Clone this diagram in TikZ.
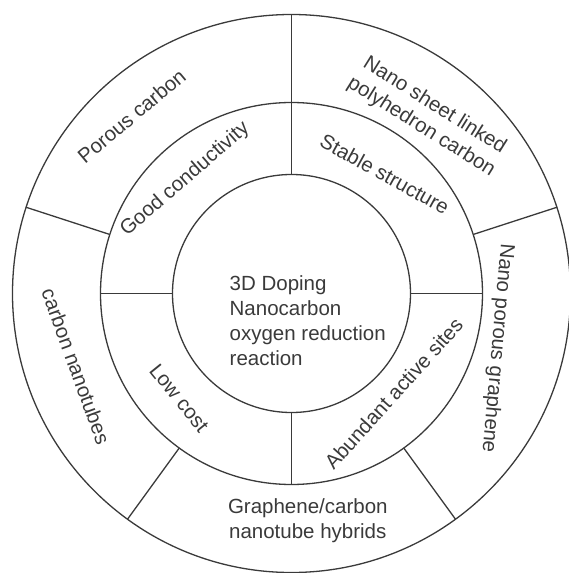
\documentclass[tikz,border=0pt]{standalone}
\usepackage{fontspec}
\setmainfont{Liberation Sans}
\usetikzlibrary{positioning}
\definecolor{InkGray}{HTML}{3A3A3A}

\begin{document}
\begin{tikzpicture}[
        x=1pt, y=1pt,
        ring/.style={circle, draw=InkGray, line width=1.3pt, inner sep=0pt, outer sep=0pt},
        divider/.style={draw=InkGray, line width=1.3pt},
        ringtext/.style={font=\fontsize{20.5}{25}\selectfont, text=InkGray, inner sep=0pt, align=center}
    ]
        \useasboundingbox (-291.5,-279.5) rectangle (277.5,293.5);

        % Nodes
        \node (rim) [ring, minimum size=558pt] at (0,0) {};
        \node (band) [ring, minimum size=382pt] at (0,0) {};
        \node (core) [ring, minimum size=238pt] at (0,0) {};
        \node (title) [ringtext, align=left, anchor=north west] at (-62,18) {3D Doping\\Nanocarbon\\oxygen reduction\\reaction};

        % Connectors
        \draw [divider] (core.90) -- (rim.90);
        \draw [divider] (core.0) -- (band.0);
        \draw [divider] (core.180) -- (band.180);
        \draw [divider] (core.270) -- (band.270);
        \foreach \a in {18,162,234,306}
            \draw [divider] (band.\a) -- (rim.\a);

        % Labels
        \node (porous) [ringtext, rotate=40] at (132:239) {Porous carbon};
        \node (sheet) [ringtext, rotate=-32] at (52.4:223.5) {Nano sheet linked\\polyhedron carbon};
        \node (nanoporous) [ringtext, rotate=-95] at (-14.9:212.8) {Nano porous graphene};
        \node (hybrids) [ringtext] at (274.1:228) {Graphene/carbon\\nanotube hybrids};
        \node (nanotubes) [ringtext, rotate=-70] at (198.7:227.5) {carbon nanotubes};
        \node (conductivity) [ringtext, rotate=41] at (133:156) {Good conductivity};
        \node (stable) [ringtext, rotate=-29] at (52:151.5) {Stable structure};
        \node (lowcost) [ringtext, rotate=-51] at (223:153.5) {Low cost};
        \node (abundant) [ringtext, rotate=48] at (-44.4:143) {Abundant active sites};
    \end{tikzpicture}
\end{document}
